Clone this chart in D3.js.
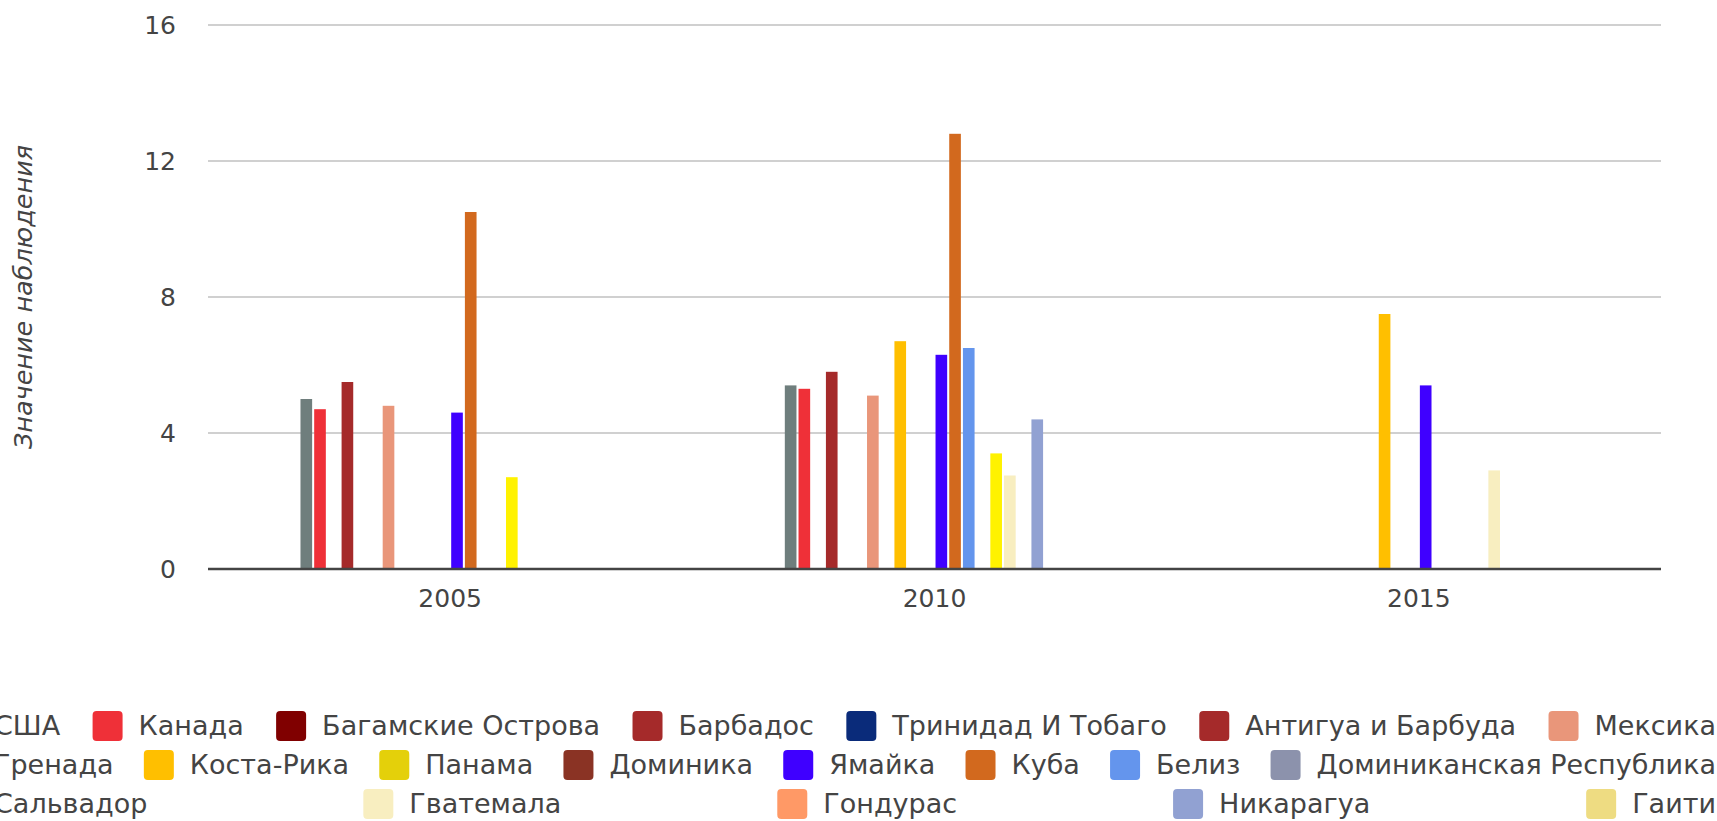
<!DOCTYPE html>
<html>
<head>
<meta charset="utf-8">
<script src="https://cdn.jsdelivr.net/npm/d3@7"></script>
<style>
  html, body { margin: 0; padding: 0; background: #fff; overflow: hidden; }
  svg { display: block; font-family: "DejaVu Sans", Verdana, sans-serif; }
</style>
</head>
<body>
<svg id="chart" width="1717" height="821"></svg>
<script>
// categories
var years = ["2005", "2010", "2015"];

var seriesNames = [
  "США", "Канада", "Багамские Острова", "Барбадос", "Тринидад И Тобаго",
  "Антигуа и Барбуда", "Мексика", "Гренада", "Коста-Рика", "Панама",
  "Доминика", "Ямайка", "Куба", "Белиз", "Доминиканская Республика",
  "Сальвадор", "Гватемала", "Гондурас", "Никарагуа", "Гаити"
];

var seriesColors = [
  "#6f7e7d", "#ef3038", "#800000", "#a52a2a", "#0a2b7a",
  "#a52a2a", "#e9967a", "#5f9ea0", "#ffbf00", "#e4d00a",
  "#8a3324", "#3f00ff", "#d2691e", "#6495ed", "#8c92ac",
  "#fff200", "#f8eec0", "#ff9966", "#91a1d2", "#eedc82"
];

// values per year, same order as seriesNames (null = no observation)
var values2005 = [5.0, 4.7, null, 5.5, null, null, 4.8, null, null, null,
                  null, 4.6, 10.5, null, null, 2.7, null, null, null, null];
var values2010 = [5.4, 5.3, null, 5.8, null, null, 5.1, null, 6.7, null,
                  null, 6.3, 12.8, 6.5, null, 3.4, 2.75, null, 4.4, null];
var values2015 = [null, null, null, null, null, null, null, null, 7.5, null,
                  null, 5.4, null, null, null, null, 2.9, null, null, null];

var yTicks = [0, 4, 8, 12, 16];
var yTitle = "Значение наблюдения";

// the original chart reserves 22 bar slots per group (two series have no data at all)
var slotCount = 22;

var valuesByYear = [values2005, values2010, values2015];

var svg = d3.select("#chart");
var margin = { top: 25, right: 56, bottom: 252, left: 208 },
    width = 1717 - margin.left - margin.right,
    height = 821 - margin.top - margin.bottom;

var g = svg.append("g")
    .attr("transform", "translate(" + margin.left + "," + margin.top + ")");

var x0 = d3.scaleBand().domain(years).range([0, width]).padding(0);
var x1 = d3.scaleBand().domain(d3.range(slotCount))
    .range([0, x0.bandwidth()])
    .paddingInner(0.15)
    .paddingOuter(6.75);
var y = d3.scaleLinear().domain([0, 16]).range([height, 0]);

// gridlines
g.append("g")
    .selectAll("line")
    .data(yTicks.filter(function (d) { return d !== 0; }))
    .enter().append("line")
    .attr("x1", 0).attr("x2", width)
    .attr("y1", function (d) { return y(d); })
    .attr("y2", function (d) { return y(d); })
    .attr("stroke", "#d0d0d0")
    .attr("stroke-width", 2);

// y axis labels
var yAxis = d3.axisLeft(y).tickValues(yTicks).tickSize(0).tickPadding(32);
g.append("g")
    .call(yAxis)
    .call(function (s) { s.select(".domain").remove(); })
    .selectAll("text")
    .attr("font-size", 25)
    .attr("fill", "#444")
    .attr("font-family", "DejaVu Sans, Verdana, sans-serif");

// bars
var groups = g.selectAll(".grp")
    .data(years)
    .enter().append("g")
    .attr("class", "grp")
    .attr("transform", function (d) { return "translate(" + x0(d) + ",0)"; });

groups.selectAll("rect")
    .data(function (d, i) {
        return valuesByYear[i].map(function (v, k) { return { k: k, v: v }; })
            .filter(function (e) { return e.v != null; });
    })
    .enter().append("rect")
    .attr("x", function (d) { return x1(d.k); })
    .attr("width", x1.bandwidth())
    .attr("y", function (d) { return y(d.v); })
    .attr("height", function (d) { return height - y(d.v); })
    .attr("fill", function (d) { return seriesColors[d.k]; });

// baseline
g.append("line")
    .attr("x1", 0).attr("x2", width)
    .attr("y1", y(0)).attr("y2", y(0))
    .attr("stroke", "#444")
    .attr("stroke-width", 2.5);

// x axis labels
var xAxis = d3.axisBottom(x0).tickSize(0).tickPadding(20);
g.append("g")
    .attr("transform", "translate(0," + height + ")")
    .call(xAxis)
    .call(function (s) { s.select(".domain").remove(); })
    .selectAll("text")
    .attr("font-size", 25)
    .attr("fill", "#444")
    .attr("font-family", "DejaVu Sans, Verdana, sans-serif");

// y title
svg.append("text")
    .attr("transform", "translate(32," + (margin.top + height / 2) + ") rotate(-90)")
    .attr("text-anchor", "middle")
    .attr("font-size", 25.5)
    .attr("font-style", "italic")
    .attr("fill", "#444")
    .text(yTitle);

// legend: wrapped rows, items spread with space-between
var legLeft = -52, legRight = 1716, legTop = 726, rowGap = 39;
var sw = 30, txtGap = 16, minGap = 26, legFont = 27;
var legend = svg.append("g");

var measure = legend.append("text").attr("font-size", legFont);
var items = seriesNames.map(function (name, i) {
    measure.text(name);
    return { name: name, color: seriesColors[i], w: sw + txtGap + measure.node().getComputedTextLength() };
});
measure.remove();

var rows = [], cur = [], curW = 0;
items.forEach(function (it) {
    var add = cur.length ? minGap + it.w : it.w;
    if (cur.length && curW + add > legRight - legLeft) {
        rows.push(cur); cur = []; curW = 0; add = it.w;
    }
    cur.push(it); curW += add;
});
if (cur.length) rows.push(cur);

rows.forEach(function (row, r) {
    var total = d3.sum(row, function (d) { return d.w; });
    var gap = row.length > 1 ? (legRight - legLeft - total) / (row.length - 1) : 0;
    var xx = legLeft;
    row.forEach(function (it) {
        var cy = legTop + r * rowGap;
        legend.append("rect")
            .attr("x", xx).attr("y", cy - sw / 2)
            .attr("width", sw).attr("height", sw)
            .attr("rx", 4)
            .attr("fill", it.color);
        legend.append("text")
            .attr("x", xx + sw + txtGap).attr("y", cy)
            .attr("dy", "0.35em")
            .attr("font-size", legFont)
            .attr("fill", "#444")
            .text(it.name);
        xx += it.w + gap;
    });
});
</script>
</body>
</html>
